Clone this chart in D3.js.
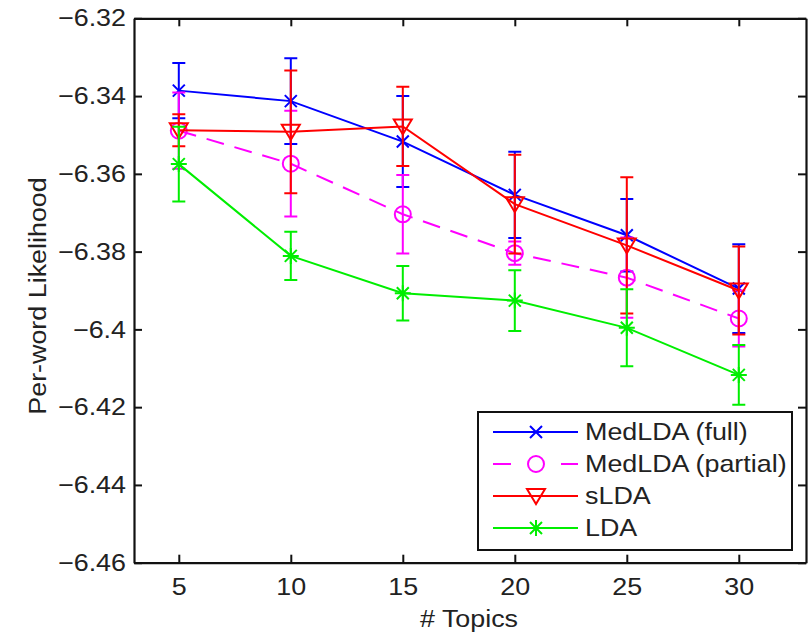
<!DOCTYPE html>
<html>
<head>
<meta charset="utf-8">
<script src="https://cdn.jsdelivr.net/npm/d3@7"></script>
<style>
  html, body { margin: 0; padding: 0; background: #fff; }
  svg { display: block; }
  text { font-family: "Liberation Sans", Arial, Helvetica, sans-serif; fill: #222; }
</style>
</head>
<body>
<svg id="chart" width="809" height="633"></svg>
<script>
// ---------------- data ----------------
const topics = [5, 10, 15, 20, 25, 30];
const xTicks = [5, 10, 15, 20, 25, 30];
const yTicks = [-6.46, -6.44, -6.42, -6.40, -6.38, -6.36, -6.34, -6.32];

const seriesNames = ["MedLDA (full)", "MedLDA (partial)", "sLDA", "LDA"];
const medFull        = [-6.3386, -6.3413, -6.3517, -6.3654, -6.3758, -6.3895];
const medFullErr     = [0.0071, 0.0110, 0.0117, 0.0111, 0.0093, 0.0114];
const medPartial     = [-6.3489, -6.3574, -6.3704, -6.3804, -6.3867, -6.3972];
const medPartialErr  = [0.0098, 0.0136, 0.0101, 0.0030, 0.0103, 0.0072];
const sLDA           = [-6.3488, -6.3492, -6.3478, -6.3678, -6.3784, -6.3900];
const sLDAErr        = [0.0041, 0.0158, 0.0102, 0.0127, 0.0175, 0.0113];
const lda            = [-6.3575, -6.3811, -6.3907, -6.3926, -6.3996, -6.4117];
const ldaErr         = [0.0096, 0.0062, 0.0070, 0.0078, 0.0099, 0.0077];

// ---------------- styles ----------------
const styles = [
  { color: "#0000ff", dash: null,    legendDash: null,       marker: "x" },
  { color: "#ff00ff", dash: "18,11", legendDash: "18,50,18", marker: "circle" },
  { color: "#ff0000", dash: null,    legendDash: null,       marker: "tri" },
  { color: "#00ee00", dash: null,    legendDash: null,       marker: "star" }
];
const series = [
  { name: seriesNames[0], values: medFull,    err: medFullErr },
  { name: seriesNames[1], values: medPartial, err: medPartialErr },
  { name: seriesNames[2], values: sLDA,       err: sLDAErr },
  { name: seriesNames[3], values: lda,        err: ldaErr }
];

const FONT = 24, SX = 1.12;
const svg = d3.select("#chart");
const L = 134, R = 806, T = 18.3, B = 562.7;

const x = d3.scaleLinear().domain([3, 33]).range([L, R]);
const y = d3.scaleLinear().domain([-6.46, -6.32]).range([B, T]);

const fmt = d => String(+(+d).toFixed(2)).replace("-", "\u2212");

// axes (ticks pointing inward)
const gL = svg.append("g").attr("transform", `translate(${L},0)`)
  .call(d3.axisLeft(y).tickValues(yTicks).tickSizeInner(-8).tickSizeOuter(0).tickPadding(7).tickFormat(fmt));
const gR = svg.append("g").attr("transform", `translate(${R},0)`)
  .call(d3.axisRight(y).tickValues(yTicks).tickSizeInner(-8).tickSizeOuter(0).tickFormat(""));
const gB = svg.append("g").attr("transform", `translate(0,${B})`)
  .call(d3.axisBottom(x).tickValues(xTicks).tickSizeInner(-8).tickSizeOuter(0).tickPadding(15).tickFormat(d3.format("d")));
const gT = svg.append("g").attr("transform", `translate(0,${T})`)
  .call(d3.axisTop(x).tickValues(xTicks).tickSizeInner(-8).tickSizeOuter(0).tickFormat(""));

[gL, gR, gB, gT].forEach(g => {
  g.select(".domain").attr("stroke", "#111").attr("stroke-width", 2.2);
  g.selectAll(".tick line").attr("stroke", "#111").attr("stroke-width", 2);
  g.selectAll(".tick text").attr("font-size", FONT).attr("fill", "#222")
    .style("font-family", '"Liberation Sans", Arial, sans-serif');
});
gL.selectAll(".tick text").attr("x", null).attr("transform", `translate(-8,0) scale(${SX},1)`);
gB.selectAll(".tick text").attr("transform", `scale(${SX},1)`);

// axis labels
svg.append("text").attr("font-size", FONT).attr("text-anchor", "middle")
  .attr("transform", `translate(${(L + R) / 2 - 1},627) scale(${SX},1)`).text("# Topics");
svg.append("text").attr("font-size", FONT).attr("text-anchor", "middle")
  .attr("transform", `translate(46,296) rotate(-90) scale(${SX},1)`).text("Per-word Likelihood");

// marker drawing
function drawMarker(g, type, cx, cy, color) {
  const m = g.append("g").attr("transform", `translate(${cx},${cy})`)
    .attr("fill", "none").attr("stroke", color).attr("stroke-width", 2);
  if (type === "x") {
    m.append("path").attr("d", "M-6,-6L6,6M-6,6L6,-6");
  } else if (type === "circle") {
    m.append("circle").attr("r", 8);
  } else if (type === "tri") {
    m.append("path").attr("d", "M-9,-7L9,-7L0,8Z");
  } else if (type === "star") {
    m.append("path").attr("d", "M-6,-6L6,6M-6,6L6,-6M-8,0L8,0M0,-8L0,8");
  }
}

// plot series
const lineGen = d3.line().x(d => x(d[0])).y(d => y(d[1]));
series.forEach((s, i) => {
  const st = styles[i];
  const g = svg.append("g");
  const pts = topics.map((t, j) => [t, s.values[j], s.err[j]]);
  // error bars
  pts.forEach(p => {
    const xc = x(p[0]), y1 = y(p[1] + p[2]), y2 = y(p[1] - p[2]);
    g.append("path")
      .attr("d", `M${xc},${y1}L${xc},${y2}M${xc - 6.5},${y1}L${xc + 6.5},${y1}M${xc - 6.5},${y2}L${xc + 6.5},${y2}`)
      .attr("stroke", st.color).attr("stroke-width", 2).attr("fill", "none");
  });
  // line
  g.append("path").datum(pts).attr("d", lineGen)
    .attr("fill", "none").attr("stroke", st.color).attr("stroke-width", 2)
    .attr("stroke-dasharray", st.dash);
  pts.forEach(p => drawMarker(g, st.marker, x(p[0]), y(p[1]), st.color));
});

// legend
const lg = svg.append("g");
lg.append("rect").attr("x", 478).attr("y", 412).attr("width", 314).attr("height", 138)
  .attr("fill", "#fff").attr("stroke", "#111").attr("stroke-width", 2);
series.forEach((s, i) => {
  const st = styles[i];
  const yy = 432 + i * 32;
  lg.append("line").attr("x1", 493).attr("x2", 578).attr("y1", yy).attr("y2", yy)
    .attr("stroke", st.color).attr("stroke-width", 2).attr("stroke-dasharray", st.legendDash);
  drawMarker(lg, st.marker, 536, yy, st.color);
  lg.append("text").attr("font-size", FONT).attr("dominant-baseline", "central")
    .attr("transform", `translate(585,${yy}) scale(${SX},1)`).text(s.name);
});
</script>
</body>
</html>
